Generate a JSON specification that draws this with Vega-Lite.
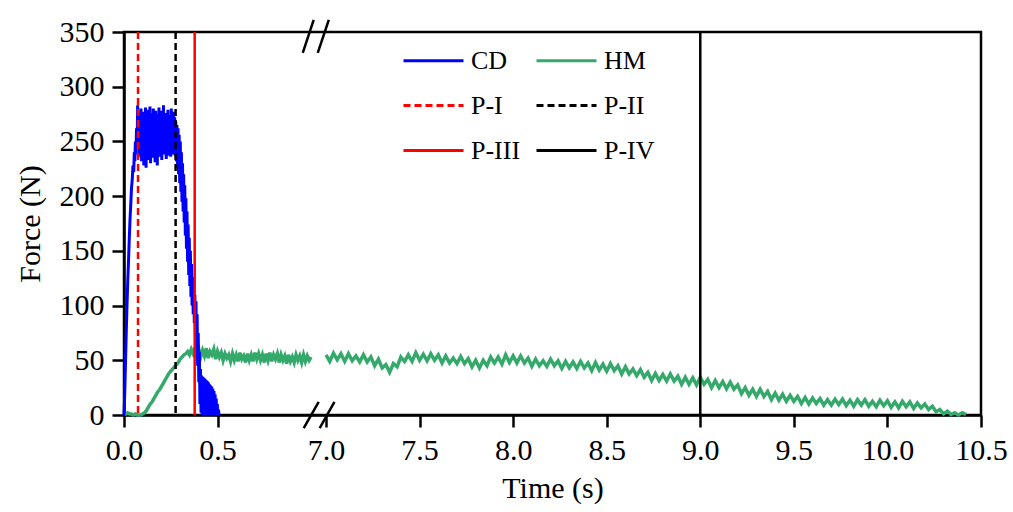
{
  "$schema": "https://vega.github.io/schema/vega-lite/v6.json",
  "autosize": {"type": "none"},
  "padding": {"left": 124, "top": 32, "right": 32, "bottom": 97},
  "width": 857,
  "height": 383,
  "background": "white",
  "config": {
    "font": "Liberation Serif",
    "view": {"stroke": "black", "strokeWidth": 2.5},
    "axis": {
      "grid": false,
      "domainColor": "black",
      "domainWidth": 2.5,
      "tickColor": "black",
      "tickWidth": 2.5,
      "tickSize": 12,
      "labelFlush": false,
      "labelOverlap": false,
      "labelFont": "Liberation Serif",
      "labelFontSize": 30,
      "labelColor": "black",
      "labelPadding": 8,
      "titleFont": "Liberation Serif",
      "titleFontSize": 30,
      "titleFontWeight": "normal",
      "titleColor": "black"
    }
  },
  "datasets": {
    "cd": [
      {"s":"CD","t":0.000,"f":0},{"s":"CD","t":0.004,"f":20},{"s":"CD","t":0.008,"f":48},{"s":"CD","t":0.012,"f":75},{"s":"CD","t":0.016,"f":100},{"s":"CD","t":0.020,"f":122},{"s":"CD","t":0.024,"f":140},{"s":"CD","t":0.028,"f":160},{"s":"CD","t":0.032,"f":178},{"s":"CD","t":0.036,"f":192},{"s":"CD","t":0.040,"f":207},{"s":"CD","t":0.044,"f":215},{"s":"CD","t":0.048,"f":228},{"s":"CD","t":0.052,"f":222},{"s":"CD","t":0.055,"f":240},{"s":"CD","t":0.058,"f":232},{"s":"CD","t":0.061,"f":250},{"s":"CD","t":0.064,"f":238},{"s":"CD","t":0.067,"f":262},{"s":"CD","t":0.070,"f":245},
      {"s":"CD","t":0.073,"f":283},{"s":"CD","t":0.076,"f":250},{"s":"CD","t":0.079,"f":272},{"s":"CD","t":0.082,"f":236},{"s":"CD","t":0.085,"f":276},{"s":"CD","t":0.088,"f":245},{"s":"CD","t":0.091,"f":280},{"s":"CD","t":0.094,"f":232},{"s":"CD","t":0.097,"f":268},{"s":"CD","t":0.100,"f":240},{"s":"CD","t":0.103,"f":277},{"s":"CD","t":0.106,"f":228},{"s":"CD","t":0.109,"f":270},{"s":"CD","t":0.112,"f":242},{"s":"CD","t":0.115,"f":281},{"s":"CD","t":0.118,"f":226},{"s":"CD","t":0.121,"f":266},{"s":"CD","t":0.124,"f":238},{"s":"CD","t":0.127,"f":279},{"s":"CD","t":0.130,"f":233},
      {"s":"CD","t":0.133,"f":272},{"s":"CD","t":0.136,"f":246},{"s":"CD","t":0.139,"f":282},{"s":"CD","t":0.142,"f":230},{"s":"CD","t":0.145,"f":268},{"s":"CD","t":0.148,"f":241},{"s":"CD","t":0.151,"f":276},{"s":"CD","t":0.154,"f":235},{"s":"CD","t":0.157,"f":280},{"s":"CD","t":0.160,"f":244},{"s":"CD","t":0.163,"f":270},{"s":"CD","t":0.166,"f":231},{"s":"CD","t":0.169,"f":278},{"s":"CD","t":0.172,"f":239},{"s":"CD","t":0.175,"f":266},{"s":"CD","t":0.178,"f":228},{"s":"CD","t":0.181,"f":275},{"s":"CD","t":0.184,"f":243},{"s":"CD","t":0.187,"f":281},{"s":"CD","t":0.190,"f":236},
      {"s":"CD","t":0.193,"f":270},{"s":"CD","t":0.196,"f":242},{"s":"CD","t":0.199,"f":278},{"s":"CD","t":0.202,"f":233},{"s":"CD","t":0.205,"f":272},{"s":"CD","t":0.208,"f":245},{"s":"CD","t":0.211,"f":283},{"s":"CD","t":0.214,"f":238},{"s":"CD","t":0.217,"f":268},{"s":"CD","t":0.220,"f":240},{"s":"CD","t":0.223,"f":276},{"s":"CD","t":0.226,"f":234},{"s":"CD","t":0.229,"f":271},{"s":"CD","t":0.232,"f":244},{"s":"CD","t":0.235,"f":279},{"s":"CD","t":0.238,"f":237},{"s":"CD","t":0.241,"f":266},{"s":"CD","t":0.244,"f":242},{"s":"CD","t":0.247,"f":274},{"s":"CD","t":0.250,"f":236},
      {"s":"CD","t":0.253,"f":280},{"s":"CD","t":0.256,"f":241},{"s":"CD","t":0.259,"f":269},{"s":"CD","t":0.262,"f":238},{"s":"CD","t":0.265,"f":277},{"s":"CD","t":0.268,"f":243},{"s":"CD","t":0.271,"f":272},{"s":"CD","t":0.274,"f":237},{"s":"CD","t":0.277,"f":268},{"s":"CD","t":0.280,"f":232},{"s":"CD","t":0.283,"f":265},{"s":"CD","t":0.286,"f":226},{"s":"CD","t":0.289,"f":262},{"s":"CD","t":0.292,"f":220},{"s":"CD","t":0.295,"f":256},{"s":"CD","t":0.298,"f":212},{"s":"CD","t":0.301,"f":250},{"s":"CD","t":0.304,"f":204},{"s":"CD","t":0.307,"f":240},{"s":"CD","t":0.310,"f":195},
      {"s":"CD","t":0.313,"f":230},{"s":"CD","t":0.316,"f":186},{"s":"CD","t":0.319,"f":220},{"s":"CD","t":0.322,"f":176},{"s":"CD","t":0.325,"f":210},{"s":"CD","t":0.328,"f":164},{"s":"CD","t":0.331,"f":198},{"s":"CD","t":0.334,"f":152},{"s":"CD","t":0.337,"f":186},{"s":"CD","t":0.340,"f":140},{"s":"CD","t":0.343,"f":174},{"s":"CD","t":0.346,"f":128},{"s":"CD","t":0.349,"f":162},{"s":"CD","t":0.352,"f":118},{"s":"CD","t":0.355,"f":150},{"s":"CD","t":0.358,"f":108},{"s":"CD","t":0.361,"f":138},{"s":"CD","t":0.364,"f":100},{"s":"CD","t":0.367,"f":126},{"s":"CD","t":0.370,"f":92},
      {"s":"CD","t":0.373,"f":118},{"s":"CD","t":0.376,"f":84},{"s":"CD","t":0.379,"f":110},{"s":"CD","t":0.382,"f":72},{"s":"CD","t":0.385,"f":104},{"s":"CD","t":0.388,"f":60},{"s":"CD","t":0.391,"f":92},{"s":"CD","t":0.394,"f":45},{"s":"CD","t":0.397,"f":75},{"s":"CD","t":0.400,"f":30},{"s":"CD","t":0.403,"f":58},{"s":"CD","t":0.406,"f":10},{"s":"CD","t":0.409,"f":42},{"s":"CD","t":0.412,"f":2},{"s":"CD","t":0.415,"f":36},{"s":"CD","t":0.418,"f":0},{"s":"CD","t":0.421,"f":35},{"s":"CD","t":0.424,"f":3},{"s":"CD","t":0.427,"f":34},{"s":"CD","t":0.430,"f":0},
      {"s":"CD","t":0.433,"f":33},{"s":"CD","t":0.436,"f":2},{"s":"CD","t":0.439,"f":32},{"s":"CD","t":0.442,"f":0},{"s":"CD","t":0.445,"f":31},{"s":"CD","t":0.448,"f":1},{"s":"CD","t":0.451,"f":30},{"s":"CD","t":0.454,"f":0},{"s":"CD","t":0.457,"f":28},{"s":"CD","t":0.460,"f":2},{"s":"CD","t":0.463,"f":27},{"s":"CD","t":0.466,"f":0},{"s":"CD","t":0.469,"f":26},{"s":"CD","t":0.472,"f":1},{"s":"CD","t":0.475,"f":24},{"s":"CD","t":0.478,"f":0},{"s":"CD","t":0.481,"f":22},{"s":"CD","t":0.484,"f":0},{"s":"CD","t":0.487,"f":19},{"s":"CD","t":0.490,"f":0},
      {"s":"CD","t":0.493,"f":15},{"s":"CD","t":0.496,"f":0},{"s":"CD","t":0.499,"f":10},{"s":"CD","t":0.502,"f":0},{"s":"CD","t":0.505,"f":5},{"s":"CD","t":0.508,"f":0}
    ],
    "hm": [
      {"s":"HM","g":1,"t":0.00,"f":2},{"s":"HM","g":1,"t":0.01,"f":1},{"s":"HM","g":1,"t":0.02,"f":2},{"s":"HM","g":1,"t":0.03,"f":1},{"s":"HM","g":1,"t":0.04,"f":1},{"s":"HM","g":1,"t":0.05,"f":0},{"s":"HM","g":1,"t":0.06,"f":1},{"s":"HM","g":1,"t":0.07,"f":0},{"s":"HM","g":1,"t":0.08,"f":0},{"s":"HM","g":1,"t":0.09,"f":0},
      {"s":"HM","g":1,"t":0.10,"f":1},{"s":"HM","g":1,"t":0.11,"f":2},{"s":"HM","g":1,"t":0.12,"f":4},{"s":"HM","g":1,"t":0.13,"f":7},{"s":"HM","g":1,"t":0.14,"f":10},{"s":"HM","g":1,"t":0.15,"f":12},{"s":"HM","g":1,"t":0.16,"f":15},{"s":"HM","g":1,"t":0.17,"f":18},{"s":"HM","g":1,"t":0.18,"f":21},{"s":"HM","g":1,"t":0.19,"f":23},
      {"s":"HM","g":1,"t":0.20,"f":26},{"s":"HM","g":1,"t":0.21,"f":29},{"s":"HM","g":1,"t":0.22,"f":32},{"s":"HM","g":1,"t":0.23,"f":35},{"s":"HM","g":1,"t":0.24,"f":38},{"s":"HM","g":1,"t":0.25,"f":40},{"s":"HM","g":1,"t":0.26,"f":42},{"s":"HM","g":1,"t":0.27,"f":44},{"s":"HM","g":1,"t":0.28,"f":46},{"s":"HM","g":1,"t":0.29,"f":48},
      {"s":"HM","g":1,"t":0.30,"f":51},{"s":"HM","g":1,"t":0.31,"f":53},{"s":"HM","g":1,"t":0.32,"f":55},{"s":"HM","g":1,"t":0.33,"f":56},{"s":"HM","g":1,"t":0.34,"f":58},{"s":"HM","g":1,"t":0.35,"f":55},{"s":"HM","g":1,"t":0.36,"f":60},{"s":"HM","g":1,"t":0.37,"f":56},{"s":"HM","g":1,"t":0.38,"f":61},{"s":"HM","g":1,"t":0.39,"f":54},
      {"s":"HM","g":1,"t":0.40,"f":60},{"s":"HM","g":1,"t":0.41,"f":53},{"s":"HM","g":1,"t":0.42,"f":59},{"s":"HM","g":1,"t":0.43,"f":54},{"s":"HM","g":1,"t":0.44,"f":61},{"s":"HM","g":1,"t":0.45,"f":52},{"s":"HM","g":1,"t":0.46,"f":58},{"s":"HM","g":1,"t":0.47,"f":55},{"s":"HM","g":1,"t":0.48,"f":60},{"s":"HM","g":1,"t":0.49,"f":51},
      {"s":"HM","g":1,"t":0.50,"f":58},{"s":"HM","g":1,"t":0.51,"f":53},{"s":"HM","g":1,"t":0.52,"f":57},{"s":"HM","g":1,"t":0.53,"f":50},{"s":"HM","g":1,"t":0.54,"f":56},{"s":"HM","g":1,"t":0.55,"f":52},{"s":"HM","g":1,"t":0.56,"f":55},{"s":"HM","g":1,"t":0.57,"f":49},{"s":"HM","g":1,"t":0.58,"f":56},{"s":"HM","g":1,"t":0.59,"f":50},
      {"s":"HM","g":1,"t":0.60,"f":55},{"s":"HM","g":1,"t":0.61,"f":49},{"s":"HM","g":1,"t":0.62,"f":57},{"s":"HM","g":1,"t":0.63,"f":51},{"s":"HM","g":1,"t":0.64,"f":54},{"s":"HM","g":1,"t":0.65,"f":48},{"s":"HM","g":1,"t":0.66,"f":56},{"s":"HM","g":1,"t":0.67,"f":50},{"s":"HM","g":1,"t":0.68,"f":55},{"s":"HM","g":1,"t":0.69,"f":49},
      {"s":"HM","g":1,"t":0.70,"f":57},{"s":"HM","g":1,"t":0.71,"f":51},{"s":"HM","g":1,"t":0.72,"f":56},{"s":"HM","g":1,"t":0.73,"f":50},{"s":"HM","g":1,"t":0.74,"f":55},{"s":"HM","g":1,"t":0.75,"f":48},{"s":"HM","g":1,"t":0.76,"f":56},{"s":"HM","g":1,"t":0.77,"f":50},{"s":"HM","g":1,"t":0.78,"f":57},{"s":"HM","g":1,"t":0.79,"f":49},
      {"s":"HM","g":1,"t":0.80,"f":55},{"s":"HM","g":1,"t":0.81,"f":51},{"s":"HM","g":1,"t":0.82,"f":56},{"s":"HM","g":1,"t":0.83,"f":48},{"s":"HM","g":1,"t":0.84,"f":55},{"s":"HM","g":1,"t":0.85,"f":50},{"s":"HM","g":1,"t":0.86,"f":54},{"s":"HM","g":1,"t":0.87,"f":47},{"s":"HM","g":1,"t":0.88,"f":55},{"s":"HM","g":1,"t":0.89,"f":49},
      {"s":"HM","g":1,"t":0.90,"f":53},{"s":"HM","g":1,"t":0.91,"f":48},{"s":"HM","g":1,"t":0.92,"f":55},{"s":"HM","g":1,"t":0.93,"f":50},{"s":"HM","g":1,"t":0.94,"f":54},{"s":"HM","g":1,"t":0.95,"f":48},{"s":"HM","g":1,"t":0.96,"f":55},{"s":"HM","g":1,"t":0.97,"f":49},{"s":"HM","g":1,"t":0.98,"f":54},{"s":"HM","g":1,"t":0.99,"f":50},{"s":"HM","g":1,"t":1.00,"f":53},
      {"s":"HM","g":2,"t":7.00,"f":55},{"s":"HM","g":2,"t":7.02,"f":49},{"s":"HM","g":2,"t":7.04,"f":56.5},{"s":"HM","g":2,"t":7.06,"f":50.5},{"s":"HM","g":2,"t":7.08,"f":56},{"s":"HM","g":2,"t":7.10,"f":49},{"s":"HM","g":2,"t":7.12,"f":56},{"s":"HM","g":2,"t":7.14,"f":49.5},{"s":"HM","g":2,"t":7.16,"f":54},{"s":"HM","g":2,"t":7.18,"f":48.5},
      {"s":"HM","g":2,"t":7.20,"f":55},{"s":"HM","g":2,"t":7.22,"f":48.5},{"s":"HM","g":2,"t":7.24,"f":53},{"s":"HM","g":2,"t":7.26,"f":45},{"s":"HM","g":2,"t":7.28,"f":51},{"s":"HM","g":2,"t":7.30,"f":43},{"s":"HM","g":2,"t":7.32,"f":46},{"s":"HM","g":2,"t":7.34,"f":39},{"s":"HM","g":2,"t":7.36,"f":47},{"s":"HM","g":2,"t":7.38,"f":44},
      {"s":"HM","g":2,"t":7.40,"f":53},{"s":"HM","g":2,"t":7.42,"f":49},{"s":"HM","g":2,"t":7.44,"f":55},{"s":"HM","g":2,"t":7.46,"f":49},{"s":"HM","g":2,"t":7.48,"f":57},{"s":"HM","g":2,"t":7.50,"f":50},{"s":"HM","g":2,"t":7.52,"f":55.5},{"s":"HM","g":2,"t":7.54,"f":49.5},{"s":"HM","g":2,"t":7.56,"f":56},{"s":"HM","g":2,"t":7.58,"f":50},
      {"s":"HM","g":2,"t":7.60,"f":55},{"s":"HM","g":2,"t":7.62,"f":47.5},{"s":"HM","g":2,"t":7.64,"f":54},{"s":"HM","g":2,"t":7.66,"f":47.5},{"s":"HM","g":2,"t":7.68,"f":52},{"s":"HM","g":2,"t":7.70,"f":47},{"s":"HM","g":2,"t":7.72,"f":53.5},{"s":"HM","g":2,"t":7.74,"f":47},{"s":"HM","g":2,"t":7.76,"f":51.5},{"s":"HM","g":2,"t":7.78,"f":44},
      {"s":"HM","g":2,"t":7.80,"f":50},{"s":"HM","g":2,"t":7.82,"f":43},{"s":"HM","g":2,"t":7.84,"f":50},{"s":"HM","g":2,"t":7.86,"f":45},{"s":"HM","g":2,"t":7.88,"f":53},{"s":"HM","g":2,"t":7.90,"f":47.5},{"s":"HM","g":2,"t":7.92,"f":53},{"s":"HM","g":2,"t":7.94,"f":46.5},{"s":"HM","g":2,"t":7.96,"f":55},{"s":"HM","g":2,"t":7.98,"f":48},
      {"s":"HM","g":2,"t":8.00,"f":54},{"s":"HM","g":2,"t":8.02,"f":47.5},{"s":"HM","g":2,"t":8.04,"f":54},{"s":"HM","g":2,"t":8.06,"f":47.5},{"s":"HM","g":2,"t":8.08,"f":52},{"s":"HM","g":2,"t":8.10,"f":44.5},{"s":"HM","g":2,"t":8.12,"f":51},{"s":"HM","g":2,"t":8.14,"f":45},{"s":"HM","g":2,"t":8.16,"f":49.5},{"s":"HM","g":2,"t":8.18,"f":44.5},
      {"s":"HM","g":2,"t":8.20,"f":51},{"s":"HM","g":2,"t":8.22,"f":45},{"s":"HM","g":2,"t":8.24,"f":49.5},{"s":"HM","g":2,"t":8.26,"f":42.5},{"s":"HM","g":2,"t":8.28,"f":49},{"s":"HM","g":2,"t":8.30,"f":43},{"s":"HM","g":2,"t":8.32,"f":48.5},{"s":"HM","g":2,"t":8.34,"f":42.5},{"s":"HM","g":2,"t":8.36,"f":49},{"s":"HM","g":2,"t":8.38,"f":43},
      {"s":"HM","g":2,"t":8.40,"f":47.5},{"s":"HM","g":2,"t":8.42,"f":40.5},{"s":"HM","g":2,"t":8.44,"f":48},{"s":"HM","g":2,"t":8.46,"f":41},{"s":"HM","g":2,"t":8.48,"f":46.5},{"s":"HM","g":2,"t":8.50,"f":40},{"s":"HM","g":2,"t":8.52,"f":47},{"s":"HM","g":2,"t":8.54,"f":40.5},{"s":"HM","g":2,"t":8.56,"f":45},{"s":"HM","g":2,"t":8.58,"f":37.5},
      {"s":"HM","g":2,"t":8.60,"f":44},{"s":"HM","g":2,"t":8.62,"f":37.5},{"s":"HM","g":2,"t":8.64,"f":42},{"s":"HM","g":2,"t":8.66,"f":36},{"s":"HM","g":2,"t":8.68,"f":41.5},{"s":"HM","g":2,"t":8.70,"f":34.5},{"s":"HM","g":2,"t":8.72,"f":39},{"s":"HM","g":2,"t":8.74,"f":31.5},{"s":"HM","g":2,"t":8.76,"f":38},{"s":"HM","g":2,"t":8.78,"f":31.5},
      {"s":"HM","g":2,"t":8.80,"f":37},{"s":"HM","g":2,"t":8.82,"f":31},{"s":"HM","g":2,"t":8.84,"f":37.5},{"s":"HM","g":2,"t":8.86,"f":31},{"s":"HM","g":2,"t":8.88,"f":35.5},{"s":"HM","g":2,"t":8.90,"f":28},{"s":"HM","g":2,"t":8.92,"f":34.5},{"s":"HM","g":2,"t":8.94,"f":28},{"s":"HM","g":2,"t":8.96,"f":34},{"s":"HM","g":2,"t":8.98,"f":27.5},
      {"s":"HM","g":2,"t":9.00,"f":34.5},{"s":"HM","g":2,"t":9.02,"f":28},{"s":"HM","g":2,"t":9.04,"f":32.5},{"s":"HM","g":2,"t":9.06,"f":25},{"s":"HM","g":2,"t":9.08,"f":31.5},{"s":"HM","g":2,"t":9.10,"f":25},{"s":"HM","g":2,"t":9.12,"f":30.5},{"s":"HM","g":2,"t":9.14,"f":24},{"s":"HM","g":2,"t":9.16,"f":30},{"s":"HM","g":2,"t":9.18,"f":23.5},
      {"s":"HM","g":2,"t":9.20,"f":27.5},{"s":"HM","g":2,"t":9.22,"f":19.5},{"s":"HM","g":2,"t":9.24,"f":25},{"s":"HM","g":2,"t":9.26,"f":18},{"s":"HM","g":2,"t":9.28,"f":23.5},{"s":"HM","g":2,"t":9.30,"f":17},{"s":"HM","g":2,"t":9.32,"f":23.5},{"s":"HM","g":2,"t":9.34,"f":17},{"s":"HM","g":2,"t":9.36,"f":21.5},{"s":"HM","g":2,"t":9.38,"f":14},
      {"s":"HM","g":2,"t":9.40,"f":20},{"s":"HM","g":2,"t":9.42,"f":13.5},{"s":"HM","g":2,"t":9.44,"f":19},{"s":"HM","g":2,"t":9.46,"f":12.5},{"s":"HM","g":2,"t":9.48,"f":18},{"s":"HM","g":2,"t":9.50,"f":12.5},{"s":"HM","g":2,"t":9.52,"f":17},{"s":"HM","g":2,"t":9.54,"f":10.5},{"s":"HM","g":2,"t":9.56,"f":16},{"s":"HM","g":2,"t":9.58,"f":10},
      {"s":"HM","g":2,"t":9.60,"f":15.5},{"s":"HM","g":2,"t":9.62,"f":10.5},{"s":"HM","g":2,"t":9.64,"f":15},{"s":"HM","g":2,"t":9.66,"f":9},{"s":"HM","g":2,"t":9.68,"f":14},{"s":"HM","g":2,"t":9.70,"f":9},{"s":"HM","g":2,"t":9.72,"f":14.5},{"s":"HM","g":2,"t":9.74,"f":9.5},{"s":"HM","g":2,"t":9.76,"f":14.5},{"s":"HM","g":2,"t":9.78,"f":8.5},
      {"s":"HM","g":2,"t":9.80,"f":13.5},{"s":"HM","g":2,"t":9.82,"f":8},{"s":"HM","g":2,"t":9.84,"f":14},{"s":"HM","g":2,"t":9.86,"f":9},{"s":"HM","g":2,"t":9.88,"f":14},{"s":"HM","g":2,"t":9.90,"f":8},{"s":"HM","g":2,"t":9.92,"f":12.5},{"s":"HM","g":2,"t":9.94,"f":7.5},{"s":"HM","g":2,"t":9.96,"f":13.5},{"s":"HM","g":2,"t":9.98,"f":8.5},
      {"s":"HM","g":2,"t":10.00,"f":13},{"s":"HM","g":2,"t":10.02,"f":7},{"s":"HM","g":2,"t":10.04,"f":12},{"s":"HM","g":2,"t":10.06,"f":6.5},{"s":"HM","g":2,"t":10.08,"f":12.5},{"s":"HM","g":2,"t":10.10,"f":7.5},{"s":"HM","g":2,"t":10.12,"f":12},{"s":"HM","g":2,"t":10.14,"f":6},{"s":"HM","g":2,"t":10.16,"f":11},{"s":"HM","g":2,"t":10.18,"f":6.5},
      {"s":"HM","g":2,"t":10.20,"f":10},{"s":"HM","g":2,"t":10.22,"f":5},{"s":"HM","g":2,"t":10.24,"f":8},{"s":"HM","g":2,"t":10.26,"f":3},{"s":"HM","g":2,"t":10.28,"f":5},{"s":"HM","g":2,"t":10.30,"f":1},{"s":"HM","g":2,"t":10.32,"f":3.5},{"s":"HM","g":2,"t":10.34,"f":0.5},{"s":"HM","g":2,"t":10.36,"f":2},{"s":"HM","g":2,"t":10.38,"f":0},{"s":"HM","g":2,"t":10.40,"f":2},{"s":"HM","g":2,"t":10.42,"f":0.5}
    ],
    "rules": [
      {"s":"P-I","t":0.075},
      {"s":"P-II","t":0.276},
      {"s":"P-III","t":0.378},
      {"s":"P-IV","t":9.0}
    ],
    "breaks": [
      {"t":0.956,"t2":2.08,"f":331,"f2":361},
      {"t":3.7,"t2":7.015,"f":331,"f2":361},
      {"t":0.961,"t2":4.08,"f":-12,"f2":12},
      {"t":4.48,"t2":7.045,"f":-12,"f2":12}
    ]
  },
  "layer": [
    {
      "data": {"name": "hm"},
      "mark": {"type": "line", "strokeWidth": 3.5},
      "encoding": {
        "x": {
          "field": "t", "type": "quantitative", "title": "Time (s)",
          "scale": {"type": "linear", "domain": [0, 1, 7, 10.5], "range": [0, 187, 202, 857], "nice": false, "zero": false},
          "axis": {"values": [0, 0.5, 7, 7.5, 8, 8.5, 9, 9.5, 10, 10.5], "format": ".1f", "titlePadding": 8}
        },
        "y": {
          "field": "f", "type": "quantitative", "title": "Force (N)",
          "scale": {"domain": [0, 350], "nice": false, "zero": true},
          "axis": {"values": [0, 50, 100, 150, 200, 250, 300, 350], "titlePadding": 14}
        },
        "detail": {"field": "g"},
        "color": {
          "field": "s", "type": "nominal",
          "scale": {"domain": ["CD", "HM", "P-I", "P-II", "P-III", "P-IV"], "range": ["#0000FF", "#34A96B", "#FF0000", "#000000", "#FF0000", "#000000"]},
          "legend": {
            "title": null, "orient": "none", "legendX": 278, "legendY": -3, "columns": 2, "direction": "horizontal",
            "columnPadding": 9, "rowPadding": -16, "symbolType": "stroke", "symbolSize": 3600,
            "symbolStrokeWidth": 3, "labelFont": "Liberation Serif", "labelFontSize": 26,
            "labelColor": "black", "labelOffset": 6, "padding": 0
          }
        },
        "strokeDash": {
          "field": "s", "type": "nominal",
          "scale": {"domain": ["CD", "HM", "P-I", "P-II", "P-III", "P-IV"], "range": [[1, 0], [1, 0], [7, 4], [7, 4], [1, 0], [1, 0]]},
          "legend": {
            "title": null, "orient": "none", "legendX": 278, "legendY": -3, "columns": 2, "direction": "horizontal",
            "columnPadding": 9, "rowPadding": -16, "symbolType": "stroke", "symbolSize": 3600,
            "symbolStrokeWidth": 3, "labelFont": "Liberation Serif", "labelFontSize": 26,
            "labelColor": "black", "labelOffset": 6, "padding": 0
          }
        }
      }
    },
    {
      "data": {"name": "cd"},
      "mark": {"type": "line", "strokeWidth": 3},
      "encoding": {
        "x": {"field": "t", "type": "quantitative", "title": "Time (s)"},
        "y": {"field": "f", "type": "quantitative", "title": "Force (N)"},
        "color": {"field": "s", "type": "nominal"},
        "strokeDash": {"field": "s", "type": "nominal"}
      }
    },
    {
      "data": {"name": "rules"},
      "mark": {"type": "rule", "strokeWidth": 2.5},
      "encoding": {
        "x": {"field": "t", "type": "quantitative", "title": "Time (s)"},
        "color": {"field": "s", "type": "nominal"},
        "strokeDash": {"field": "s", "type": "nominal"}
      }
    },
    {
      "data": {"name": "breaks"},
      "mark": {"type": "rule", "strokeWidth": 2.5, "color": "black"},
      "encoding": {
        "x": {"field": "t", "type": "quantitative", "title": "Time (s)"},
        "x2": {"field": "t2"},
        "y": {"field": "f", "type": "quantitative", "title": "Force (N)"},
        "y2": {"field": "f2"}
      }
    }
  ]
}
